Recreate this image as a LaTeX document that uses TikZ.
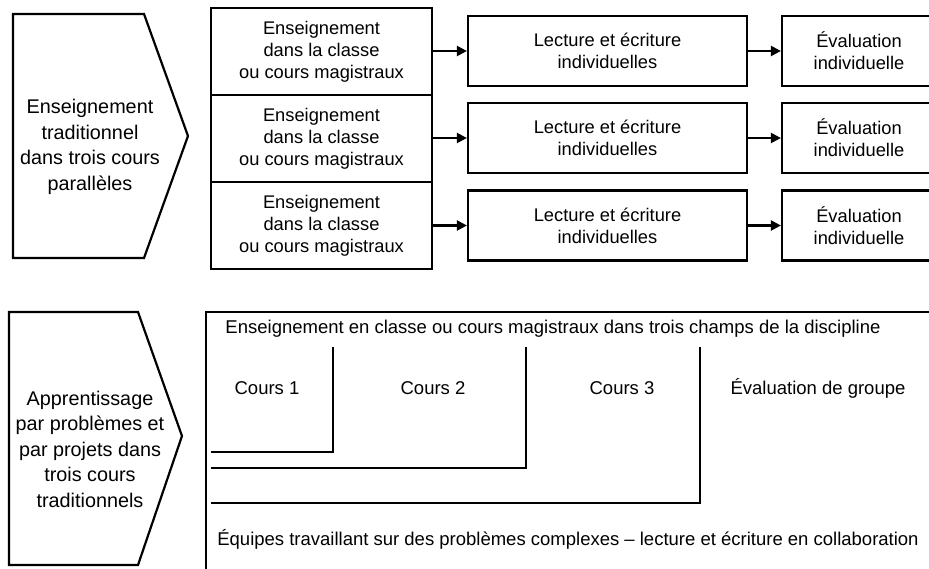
\documentclass[tikz,border=0pt]{standalone}
\usepackage{fontspec}
\setmainfont{Liberation Sans}
\usetikzlibrary{arrows.meta}
\tikzset{ box/.style = { rectangle
                       , draw
                       , line width   = 2.2pt
                       , align        = center
                       , inner sep    = 0pt
                       , font         = \fontsize{18.3}{22}\selectfont
                       },
          lbl/.style = { inner sep = 0pt
                       , font      = \fontsize{18.5}{22}\selectfont
                       },
         chev/.style = { align     = center
                       , inner sep = 0pt
                       , font      = \fontsize{19.8}{25.5}\selectfont
                       },
         edge/.style = { line width = 2.2pt
                       , line join  = miter
                       },
          arr/.style = { line width = 2.2pt
                       , -{Triangle[length=10pt, width=10pt]}
                       }
        }

\begin{document}
\begin{tikzpicture}[x=1pt, y=-1pt]
      \useasboundingbox (0,0) rectangle (929,569);
      \clip (0,0) rectangle (929,569);
      % upper half: three parallel courses
      \draw[edge] (13,14) -- (144,14) -- (188,136) -- (144,258) -- (13,258) -- cycle;
      \node[chev] (trad) at (90,147)
            {Enseignement\\traditionnel\\dans trois cours\\parall\`eles};
      %\foreach \r/\y in {1/51.5, 2/138.5, 3/225.5} {
       \node[box, minimum width=221, minimum height=87] (e1) at (321.5, 51.5)
            {Enseignement\\dans la classe\\ou cours magistraux};
       \node[box, minimum width=221, minimum height=87] (e2) at (321.5,138.5)
            {Enseignement\\dans la classe\\ou cours magistraux};
       \node[box, minimum width=221, minimum height=87] (e3) at (321.5,225.5)
            {Enseignement\\dans la classe\\ou cours magistraux};
      %}
       \node[box, minimum width=279, minimum height=70] (l1) at (607.5, 51)
            {Lecture et \'ecriture\\individuelles};
       \node[box, minimum width=279, minimum height=70] (l2) at (607.5,138)
            {Lecture et \'ecriture\\individuelles};
       \node[box, minimum width=279, minimum height=70] (l3) at (607.5,225.5)
            {Lecture et \'ecriture\\individuelles};

       \node[box, minimum width=154, minimum height=70] (v1) at (859, 51)
            {\'Evaluation\\individuelle};
       \node[box, minimum width=154, minimum height=70] (v2) at (859,138)
            {\'Evaluation\\individuelle};
       \node[box, minimum width=154, minimum height=70] (v3) at (859,225.5)
            {\'Evaluation\\individuelle};

      \draw[arr] (e1.east |- l1.west) -- (l1.west);
      \draw[arr] (e2.east |- l2.west) -- (l2.west);
      \draw[arr] (e3.east |- l3.west) -- (l3.west);
      \draw[arr] (l1) -- (v1);
      \draw[arr] (l2) -- (v2);
      \draw[arr] (l3) -- (v3);

      % lower half: problem and project based learning
      \draw[edge] (9,312) -- (138,312) -- (182,436) -- (138,565) -- (9,565) -- cycle;
      \node[chev] (app) at (90,449)
            {Apprentissage\\par probl\`emes et\\par projets dans\\trois cours\\traditionnels};
      \draw[edge] (206,590) |- (950,312);
      \node[lbl] (ens) at (553,329)
            {Enseignement en classe ou cours magistraux dans trois champs de la discipline};
      \node[lbl] (c1) at (267,388) {Cours 1};
      \node[lbl] (c2) at (433,388) {Cours 2};
      \node[lbl] (c3) at (622,388) {Cours 3};
      \node[lbl] (grp) at (818,388) {\'Evaluation de groupe};
      \draw[edge] (211,452) -| (333,347)
                  (211,468) -| (526,347)
                  (211,503) -| (700,347);
      \node[lbl] (equ) at (568,539)
            {\'Equipes travaillant sur des probl\`emes complexes -- lecture et \'ecriture en collaboration};
    \end{tikzpicture}
\end{document}
